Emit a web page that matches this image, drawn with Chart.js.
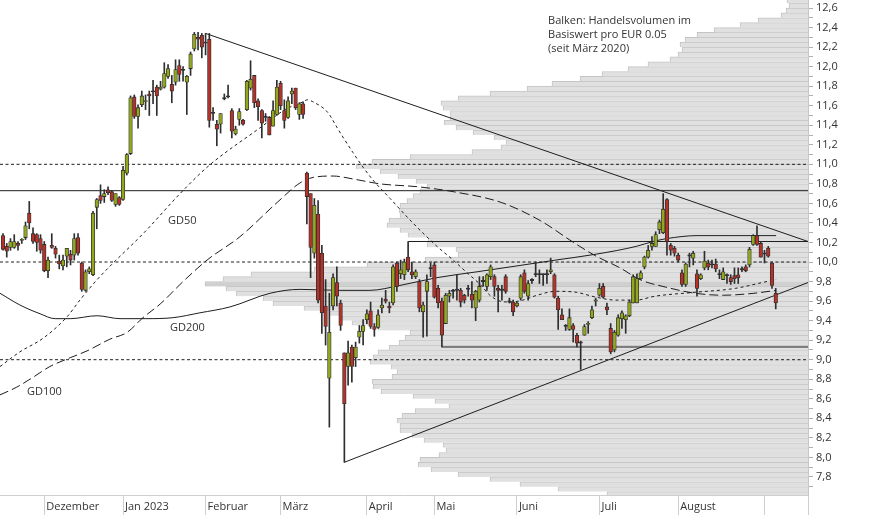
<!DOCTYPE html>
<html lang="de">
<head>
<meta charset="utf-8">
<title>Kursverlauf</title>
<script src="https://cdn.jsdelivr.net/npm/chart.js@4/dist/chart.umd.min.js"></script>
<style>
  html, body { margin: 0; padding: 0; background: #ffffff; }
  #box { width: 874px; height: 515px; }
</style>
</head>
<body>
<div id="box"><canvas id="kurs" width="874" height="515"></canvas></div>
<script>
// Kerzen (ein Wert pro Handelstag, 16.11.2022 bis 06.09.2023)
var kOpen = [
  10.27, 10.16, 10.15, 10.15, 10.19, 10.22, 10.25, 10.50, 10.29, 10.28,
  10.24, 10.18, 9.91, 10.17, 10.14, 10.01, 9.96, 10.06, 10.08, 10.07,
  10.25, 9.99, 9.71, 9.90, 9.87, 10.56, 10.68, 10.67, 10.74, 10.72,
  10.59, 10.66, 10.64, 10.91, 11.11, 11.69, 11.49, 11.61, 11.64, 11.72,
  11.74, 11.79, 11.77, 11.79, 11.90, 11.82, 11.84, 12.01, 11.96, 11.84,
  11.98, 12.18, 12.30, 12.32, 12.24, 12.28, 11.52, 11.41, 11.41, 11.67,
  11.69, 11.55, 11.31, 11.46, 11.45, 11.56, 11.78, 11.91, 11.65, 11.55,
  11.48, 11.48, 11.39, 11.51, 11.83, 11.55, 11.48, 11.72, 11.78, 11.51,
  11.62, 10.91, 10.70, 10.09, 10.49, 10.09, 9.55, 8.81, 9.55, 9.79,
  9.58, 9.07, 8.93, 9.13, 9.02, 9.23, 9.29, 9.41, 9.50, 9.34,
  9.33, 9.53, 9.62, 9.55, 9.58, 9.99, 9.88, 9.87, 10.05, 9.90,
  9.85, 9.80, 9.49, 9.70, 9.93, 9.97, 9.73, 9.60, 9.37, 9.65,
  9.70, 9.71, 9.71, 9.66, 9.72, 9.67, 9.53, 9.61, 9.80, 9.75,
  9.85, 9.85, 9.73, 9.71, 9.85, 9.59, 9.59, 9.55, 9.63, 9.89,
  9.65, 9.81, 9.87, 9.87, 9.87, 9.87, 9.90, 9.87, 9.63, 9.46,
  9.34, 9.31, 9.35, 9.25, 9.17, 9.25, 9.36, 9.43, 9.60, 9.66,
  9.75, 9.54, 9.32, 9.10, 9.25, 9.42, 9.41, 9.45, 9.58, 9.58,
  9.83, 9.95, 10.05, 10.16, 10.16, 10.33, 10.30, 10.64, 10.17, 10.14,
  10.07, 9.89, 9.77, 10.06, 10.04, 9.88, 9.83, 9.94, 9.99, 9.97,
  9.98, 9.87, 9.82, 9.86, 9.84, 9.86, 9.87, 9.92, 9.95, 9.97,
  10.18, 10.27, 10.19, 10.08, 10.14, 9.99, 9.68
];
var kHigh = [
  10.29, 10.19, 10.24, 10.28, 10.21, 10.24, 10.41, 10.62, 10.35, 10.29,
  10.28, 10.21, 10.05, 10.29, 10.16, 10.07, 10.07, 10.14, 10.12, 10.29,
  10.29, 10.00, 9.92, 9.95, 10.52, 10.65, 10.79, 10.74, 10.77, 10.73,
  10.70, 10.67, 10.98, 11.11, 11.70, 11.71, 11.61, 11.75, 11.71, 11.75,
  11.86, 11.81, 11.85, 12.04, 12.02, 11.91, 12.07, 12.07, 12.00, 11.91,
  12.15, 12.35, 12.35, 12.34, 12.34, 12.34, 11.58, 11.45, 11.52, 11.72,
  11.81, 11.57, 11.39, 11.57, 11.46, 11.86, 12.06, 11.91, 11.67, 11.56,
  11.52, 11.49, 11.65, 11.86, 11.85, 11.66, 11.69, 11.78, 11.78, 11.63,
  11.64, 10.92, 10.70, 10.65, 10.63, 10.17, 9.82, 9.68, 9.88, 9.95,
  9.61, 9.07, 9.19, 9.15, 9.18, 9.35, 9.41, 9.51, 9.59, 9.37,
  9.51, 9.63, 9.71, 9.59, 9.97, 10.00, 10.02, 10.03, 10.21, 10.00,
  9.92, 9.82, 9.59, 9.87, 9.99, 10.00, 9.76, 9.63, 9.68, 9.71,
  9.72, 9.87, 9.73, 9.67, 9.76, 9.80, 9.71, 9.85, 9.85, 9.88,
  9.97, 9.87, 9.76, 9.76, 9.87, 9.63, 9.61, 9.59, 9.87, 9.92,
  9.81, 9.83, 10.00, 9.92, 9.88, 9.92, 10.04, 9.88, 9.65, 9.52,
  9.36, 9.52, 9.37, 9.27, 9.19, 9.36, 9.39, 9.55, 9.63, 9.78,
  9.78, 9.58, 9.37, 9.30, 9.46, 9.50, 9.46, 9.61, 9.87, 9.88,
  9.91, 10.06, 10.17, 10.26, 10.31, 10.43, 10.70, 10.65, 10.19, 10.16,
  10.09, 9.92, 9.99, 10.09, 10.11, 9.92, 9.88, 10.11, 10.02, 10.02,
  10.03, 9.92, 9.94, 9.88, 9.87, 9.94, 9.94, 9.95, 9.97, 10.15,
  10.28, 10.37, 10.21, 10.12, 10.16, 10.00, 9.73
];
var kLow = [
  10.12, 10.05, 10.12, 10.14, 10.12, 10.19, 10.23, 10.34, 10.19, 10.11,
  10.09, 9.90, 9.84, 10.14, 10.04, 9.93, 9.92, 9.95, 9.97, 10.02,
  10.07, 9.70, 9.70, 9.88, 9.86, 10.34, 10.60, 10.61, 10.69, 10.62,
  10.57, 10.58, 10.63, 10.89, 11.10, 11.47, 11.37, 11.59, 11.56, 11.50,
  11.62, 11.50, 11.76, 11.78, 11.88, 11.63, 11.81, 11.85, 11.85, 11.51,
  11.91, 12.16, 12.17, 12.09, 12.12, 11.38, 11.45, 11.19, 11.32, 11.66,
  11.68, 11.27, 11.30, 11.40, 11.40, 11.55, 11.76, 11.58, 11.45, 11.27,
  11.44, 11.30, 11.39, 11.50, 11.56, 11.37, 11.47, 11.62, 11.56, 11.46,
  11.47, 10.39, 9.84, 10.04, 9.58, 9.27, 9.15, 8.31, 9.51, 9.55,
  9.30, 7.95, 8.74, 8.77, 8.93, 9.17, 9.15, 9.37, 9.32, 9.24,
  9.32, 9.48, 9.58, 9.48, 9.56, 9.70, 9.83, 9.82, 9.90, 9.83,
  9.83, 9.49, 9.23, 9.24, 9.85, 9.63, 9.53, 9.13, 9.37, 9.59,
  9.63, 9.61, 9.54, 9.58, 9.65, 9.53, 9.40, 9.59, 9.75, 9.71,
  9.82, 9.65, 9.49, 9.61, 9.68, 9.58, 9.45, 9.54, 9.61, 9.68,
  9.61, 9.78, 9.85, 9.78, 9.76, 9.78, 9.88, 9.63, 9.31, 9.41,
  9.30, 9.30, 9.18, 9.13, 8.90, 9.25, 9.27, 9.42, 9.55, 9.65,
  9.63, 9.46, 9.06, 9.08, 9.24, 9.32, 9.27, 9.44, 9.58, 9.58,
  9.82, 9.93, 10.04, 10.12, 10.16, 10.29, 10.29, 10.07, 10.07, 10.06,
  10.00, 9.75, 9.75, 9.95, 9.97, 9.65, 9.82, 9.92, 9.92, 9.94,
  9.90, 9.83, 9.82, 9.78, 9.77, 9.78, 9.78, 9.90, 9.90, 9.95,
  10.17, 10.17, 10.05, 9.99, 10.05, 9.73, 9.52
];
var kClose = [
  10.13, 10.11, 10.21, 10.21, 10.17, 10.23, 10.37, 10.40, 10.21, 10.20,
  10.12, 9.91, 10.02, 10.15, 10.08, 9.98, 10.02, 10.14, 10.02, 10.24,
  10.09, 9.72, 9.90, 9.93, 10.50, 10.64, 10.63, 10.70, 10.71, 10.63,
  10.70, 10.59, 10.94, 11.10, 11.68, 11.49, 11.58, 11.70, 11.65, 11.70,
  11.74, 11.70, 11.79, 11.93, 11.98, 11.75, 11.97, 11.92, 11.96, 11.90,
  12.13, 12.33, 12.28, 12.20, 12.24, 11.45, 11.52, 11.36, 11.52, 11.67,
  11.69, 11.34, 11.36, 11.54, 11.41, 11.85, 11.87, 11.63, 11.59, 11.42,
  11.48, 11.30, 11.55, 11.79, 11.60, 11.45, 11.65, 11.75, 11.58, 11.62,
  11.51, 10.67, 10.15, 10.58, 9.61, 9.48, 9.34, 9.28, 9.84, 9.65,
  9.35, 8.55, 9.07, 8.93, 9.13, 9.29, 9.35, 9.47, 9.34, 9.31,
  9.46, 9.56, 9.60, 9.53, 9.95, 9.75, 9.92, 10.00, 9.92, 9.87,
  9.90, 9.53, 9.56, 9.80, 9.93, 9.64, 9.58, 9.25, 9.66, 9.68,
  9.70, 9.71, 9.59, 9.61, 9.72, 9.61, 9.70, 9.75, 9.80, 9.87,
  9.95, 9.75, 9.71, 9.71, 9.70, 9.59, 9.49, 9.58, 9.85, 9.70,
  9.78, 9.81, 9.87, 9.87, 9.87, 9.87, 9.92, 9.64, 9.51, 9.41,
  9.34, 9.43, 9.31, 9.17, 9.17, 9.34, 9.37, 9.51, 9.61, 9.73,
  9.64, 9.51, 9.08, 9.28, 9.43, 9.48, 9.45, 9.59, 9.85, 9.83,
  9.89, 10.05, 10.12, 10.19, 10.28, 10.41, 10.54, 10.21, 10.12, 10.09,
  10.02, 9.77, 9.98, 10.06, 10.09, 9.73, 9.87, 10.01, 9.95, 9.97,
  9.93, 9.87, 9.90, 9.86, 9.80, 9.83, 9.84, 9.92, 9.91, 10.13,
  10.27, 10.18, 10.05, 10.08, 10.06, 9.76, 9.58
];

// Monatsanfaenge (Index der ersten Kerze) und Beschriftung
var monthIdx = [11, 32, 54, 74, 97, 115, 137, 159, 180, 203];
var monthNames = ['Dezember', 'Jan 2023', 'Februar', 'März', 'April', 'Mai', 'Juni', 'Juli', 'August', ''];

// Kursachse
var priceTicks = [
  7.7, 7.8, 7.9, 8.0, 8.1, 8.2, 8.3, 8.4, 8.5, 8.6, 8.7, 8.8, 8.9, 9.0, 9.1, 9.2, 9.3,
  9.4, 9.5, 9.6, 9.7, 9.8, 9.9, 10.0, 10.1, 10.2, 10.3, 10.4, 10.5, 10.6, 10.7, 10.8,
  10.9, 11.0, 11.1, 11.2, 11.3, 11.4, 11.5, 11.6, 11.7, 11.8, 11.9, 12.0, 12.1, 12.2,
  12.3, 12.4, 12.5, 12.6
];
var priceMin = 7.615;
var priceMax = 12.682;
var idxMin = -0.8;
var idxMax = 214.6;

// Volumenprofil: Untergrenze der Preisstufe (EUR 0.05) und relatives Volumen
var volStep = 0.05;
var volLevel = [
  7.60, 7.65, 7.70, 7.75, 7.80, 7.85, 7.90, 7.95, 8.00, 8.05,
  8.10, 8.15, 8.20, 8.25, 8.30, 8.35, 8.40, 8.45, 8.50, 8.55,
  8.60, 8.65, 8.70, 8.75, 8.80, 8.85, 8.90, 8.95, 9.00, 9.05,
  9.10, 9.15, 9.20, 9.25, 9.30, 9.35, 9.40, 9.45, 9.50, 9.55,
  9.60, 9.65, 9.70, 9.75, 9.80, 9.85, 9.90, 9.95, 10.00, 10.05,
  10.10, 10.15, 10.20, 10.25, 10.30, 10.35, 10.40, 10.45, 10.50, 10.55,
  10.60, 10.65, 10.70, 10.75, 10.80, 10.85, 10.90, 10.95, 11.00, 11.05,
  11.10, 11.15, 11.20, 11.25, 11.30, 11.35, 11.40, 11.45, 11.50, 11.55,
  11.60, 11.65, 11.70, 11.75, 11.80, 11.85, 11.90, 11.95, 12.00, 12.05,
  12.10, 12.15, 12.20, 12.25, 12.30, 12.35, 12.40, 12.45, 12.50, 12.55,
  12.60, 12.65
];
var volAmount = [
  201, 250, 288, 318, 350, 377, 390, 388, 369, 362,
  365, 384, 396, 408, 408, 411, 406, 393, 359, 373,
  395, 427, 435, 436, 416, 411, 417, 438, 435, 430,
  419, 409, 403, 398, 430, 456, 466, 479, 504, 535,
  545, 572, 582, 603, 585, 557, 494, 441, 383, 350,
  352, 381, 380, 400, 408, 421, 419, 408, 409, 408,
  401, 395, 388, 381, 392, 410, 428, 452, 436, 398,
  336, 307, 302, 314, 335, 352, 364, 358, 358, 365,
  367, 350, 318, 281, 256, 228, 206, 180, 160, 138,
  130, 126, 128, 123, 111, 94, 68, 50, 27, 22,
  19, 21
];
var volAxisMax = 808;

// Gleitende Durchschnitte (Kerzen-Index, Kurs)
var gd50Idx = [-0.8, 4.5, 10.7, 17.1, 20.5, 25.1, 38.1, 47.2, 54.7, 69.1, 75.2, 80.0, 81.1, 82.6, 86.6,
  89.0, 90.6, 93.3, 96.0, 98.6, 103.2, 109.0, 115.7, 120.0, 123.7, 127.2, 129.8, 132.5, 135.2, 138.6,
  142.4, 147.4, 152.8, 158.1, 163.4, 168.8, 173.8, 184.5, 195.2, 202.4, 206.1];
var gd50Val = [8.93, 9.08, 9.22, 9.44, 9.61, 9.82, 10.32, 10.70, 10.98, 11.39, 11.56, 11.64, 11.66, 11.64, 11.53,
  11.38, 11.28, 11.12, 10.97, 10.84, 10.65, 10.41, 10.16, 10.02, 9.89, 9.77, 9.66, 9.60, 9.59, 9.61,
  9.66, 9.70, 9.69, 9.64, 9.61, 9.61, 9.65, 9.69, 9.73, 9.79, 9.82];

var gd100Idx = [-0.8, 3.7, 8.0, 12.5, 17.9, 22.4, 28.5, 33.1, 37.3, 41.9, 48.0, 54.4, 63.2, 73.1, 79.2, 83.2,
  88.0, 93.3, 100.5, 110.6, 120.0, 132.8, 143.4, 151.7, 158.1, 164.5, 169.8, 177.0, 184.5, 192.0, 200.2, 206.1];
var gd100Val = [8.64, 8.72, 8.82, 8.93, 9.02, 9.09, 9.21, 9.28, 9.43, 9.57, 9.80, 10.02, 10.26, 10.61, 10.81, 10.87,
  10.88, 10.85, 10.80, 10.77, 10.72, 10.61, 10.42, 10.21, 10.06, 9.94, 9.82, 9.74, 9.68, 9.66, 9.68, 9.71];

var gd200Idx = [-0.8, 4.5, 9.9, 13.9, 17.9, 25.1, 31.2, 37.9, 45.3, 52.5, 60.5, 71.2, 79.2, 89.8, 97.8, 105.8,
  115.7, 126.4, 137.0, 147.4, 158.1, 168.8, 173.3, 177.0, 185.0, 194.6, 206.1];
var gd200Val = [9.68, 9.56, 9.47, 9.42, 9.42, 9.45, 9.42, 9.42, 9.43, 9.48, 9.54, 9.68, 9.72, 9.71, 9.71, 9.76,
  9.84, 9.90, 9.96, 10.02, 10.08, 10.16, 10.21, 10.24, 10.27, 10.27, 10.27];

// Marken: Linien
var dottedLevels = [11.0, 10.0, 9.0];
var solidLevel = 10.73;
var resistFrom = 108, resistVal = 10.21;
var supportFrom = 117, supportVal = 9.13;
var downIdx = [54, 214.6], downVal = [12.34, 10.21];
var upIdx = [91, 214.6], upVal = [7.95, 9.79];

var gdNames = ['GD50', 'GD200', 'GD100'];
var noteLines = ['Balken: Handelsvolumen im', 'Basiswert pro EUR 0.05', '(seit März 2020)'];

var FONT = '"Open Sans", "Noto Sans", sans-serif';
var INK = '#1e1e1e';

function pts(xs, ys) {
  var a = [];
  for (var i = 0; i < xs.length; i++) a.push({ x: xs[i], y: ys[i] });
  return a;
}

function lineSet(data, dash, order, smooth) {
  return {
    type: 'line', xAxisID: 'x', yAxisID: 'y', data: data,
    borderColor: INK, borderWidth: 1, borderDash: dash,
    pointRadius: 0, fill: false, tension: 0,
    cubicInterpolationMode: smooth ? 'monotone' : 'default',
    order: order
  };
}

// Kerzen zusammenbauen
var wickData = [], bodyData = [], bodyColor = [];
for (var i = 0; i < kOpen.length; i++) {
  wickData.push({ x: i, y: [kLow[i], kHigh[i]] });
  bodyData.push({ x: i, y: [Math.min(kOpen[i], kClose[i]), Math.max(kOpen[i], kClose[i])] });
  if (kClose[i] > kOpen[i]) bodyColor.push('#93a61e');
  else if (kClose[i] < kOpen[i]) bodyColor.push('#b3322a');
  else bodyColor.push('#333333');
}

// Volumenbalken
var volData = [], volColor = [];
var volTop = Math.max.apply(null, volAmount);
for (var j = 0; j < volLevel.length; j++) {
  volData.push({ y: volLevel[j] + volStep / 2, x: volAmount[j] });
  volColor.push(volAmount[j] === volTop ? '#d0d0d0' : '#e0e0e0');
}

var datasets = [];
datasets.push({
  type: 'bar', indexAxis: 'y', xAxisID: 'xv', yAxisID: 'y', data: volData,
  backgroundColor: volColor, borderColor: '#c4c4c4',
  borderWidth: { top: 1, bottom: 0, left: 1, right: 0 }, borderSkipped: false,
  barThickness: 4.89, grouped: false, order: 10
});
datasets.push(lineSet(pts([idxMin, idxMax], [solidLevel, solidLevel]), [], 6, false));
for (var d = 0; d < dottedLevels.length; d++) {
  datasets.push(lineSet(pts([idxMin, idxMax], [dottedLevels[d], dottedLevels[d]]), [3, 2.5], 6, false));
}
datasets.push(lineSet(pts([resistFrom, idxMax], [resistVal, resistVal]), [], 5, false));
datasets.push(lineSet(pts([supportFrom, idxMax], [supportVal, supportVal]), [], 5, false));
datasets.push(lineSet(pts(downIdx, downVal), [], 4, false));
datasets.push(lineSet(pts(upIdx, upVal), [], 4, false));
datasets.push(lineSet(pts(gd200Idx, gd200Val), [], 3, true));
datasets.push(lineSet(pts(gd100Idx, gd100Val), [9, 4], 3, true));
datasets.push(lineSet(pts(gd50Idx, gd50Val), [3, 3], 3, true));
datasets.push({
  type: 'bar', xAxisID: 'x', yAxisID: 'y', data: wickData,
  backgroundColor: '#2e2e2e', barThickness: 1, grouped: false, order: 1
});
datasets.push({
  type: 'bar', xAxisID: 'x', yAxisID: 'y', data: bodyData,
  backgroundColor: bodyColor, borderColor: '#2e2e2e', borderWidth: 0.8, borderSkipped: false,
  barThickness: 3.6, minBarLength: 1.2, grouped: false, order: 0
});

// Texte im Chart (GD-Beschriftung, Hinweis oben rechts)
var textPlugin = {
  id: 'texte',
  afterDatasetsDraw: function (chart) {
    var ctx = chart.ctx, xs = chart.scales.x, ys = chart.scales.y;
    var at = [[44.0, 10.42], [44.5, 9.325], [6.4, 8.669]];
    ctx.save();
    ctx.font = '11px ' + FONT;
    ctx.fillStyle = '#333333';
    ctx.textAlign = 'left';
    ctx.textBaseline = 'middle';
    for (var k = 0; k < gdNames.length; k++) {
      ctx.fillText(gdNames[k], xs.getPixelForValue(at[k][0]), ys.getPixelForValue(at[k][1]));
    }
    var nx = xs.getPixelForValue(145.3), ny = ys.getPixelForValue(12.47);
    for (var n = 0; n < noteLines.length; n++) {
      ctx.fillText(noteLines[n], nx, ny + n * 14);
    }
    ctx.restore();
  }
};

new Chart(document.getElementById('kurs'), {
  type: 'bar',
  data: { datasets: datasets },
  options: {
    responsive: false,
    devicePixelRatio: 1,
    animation: false,
    events: [],
    layout: { padding: 0 },
    plugins: { legend: { display: false }, tooltip: { enabled: false } },
    scales: {
      x: {
        type: 'linear', axis: 'x', position: 'bottom', min: idxMin, max: idxMax, offset: false,
        afterBuildTicks: function (s) {
          var t = monthIdx.map(function (v) { return { value: v }; });
          t.push({ value: idxMax });
          s.ticks = t;
        },
        afterFit: function (s) { s.height = 20; s.paddingLeft = 0; s.paddingRight = 0; },
        grid: { drawOnChartArea: false, drawTicks: true, tickLength: 20, color: '#cfcfcf', offset: false },
        border: { display: true, color: '#cfcfcf' },
        ticks: {
          autoSkip: false, maxRotation: 0, minRotation: 0, align: 'start', labelOffset: 2, padding: -15,
          color: '#333333', font: { family: FONT, size: 11 },
          callback: function (v, i) { return i < monthNames.length ? monthNames[i] : ''; }
        }
      },
      xv: {
        type: 'linear', axis: 'x', display: false, min: 0, max: volAxisMax, reverse: true, offset: false,
        grid: { offset: false }
      },
      y: {
        type: 'linear', axis: 'y', position: 'right', min: priceMin, max: priceMax, offset: false,
        afterBuildTicks: function (s) {
          s.ticks = priceTicks.map(function (v) { return { value: v }; });
        },
        afterFit: function (s) { s.width = 66; s.paddingTop = 0; s.paddingBottom = 0; },
        grid: { drawOnChartArea: false, drawTicks: true, tickLength: 5, color: '#b0b0b0', offset: false },
        border: { display: true, color: '#c8c8c8' },
        ticks: {
          autoSkip: false, padding: 3, color: '#333333', font: { family: FONT, size: 11 },
          callback: function (v) {
            if (Math.round(v * 10) % 2 !== 0) return '';
            return v.toFixed(1).replace('.', ',');
          }
        }
      }
    }
  },
  plugins: [textPlugin]
});
</script>
</body>
</html>
